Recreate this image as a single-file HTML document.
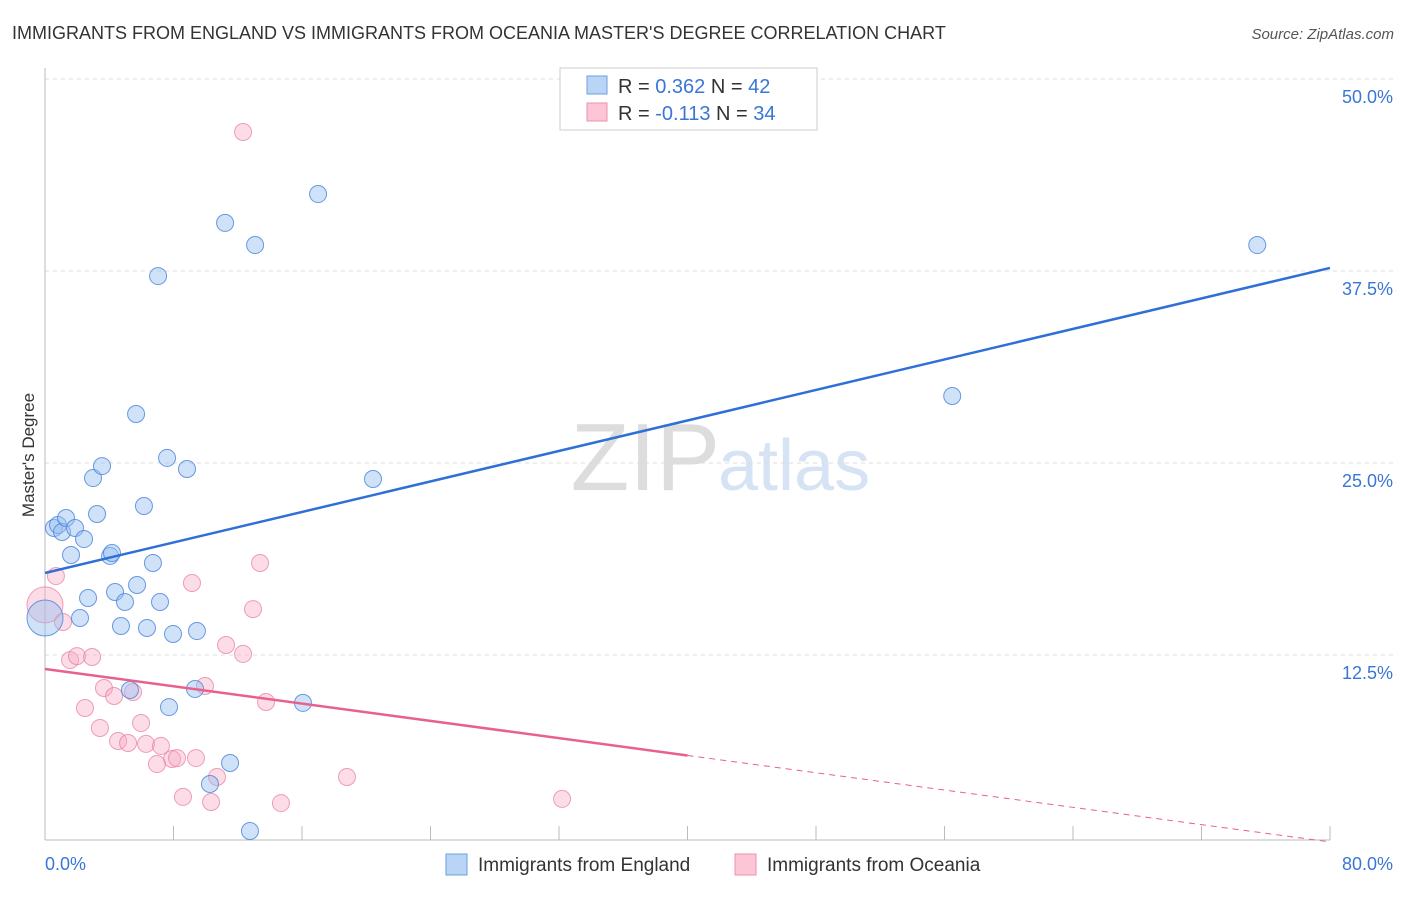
<!DOCTYPE html>
<html><head><meta charset="utf-8"><style>
body{margin:0;background:#fff;font-family:"Liberation Sans",sans-serif;}
svg text{font-family:"Liberation Sans",sans-serif;}
</style></head><body>
<svg id="c" width="1406" height="892">
<text x="12" y="39" font-size="18" fill="#333">IMMIGRANTS FROM ENGLAND VS IMMIGRANTS FROM OCEANIA MASTER'S DEGREE CORRELATION CHART</text>
<text x="1394" y="39" font-size="15" fill="#555" font-style="italic" text-anchor="end">Source: ZipAtlas.com</text>
<text x="720" y="490" font-size="96" fill="#ddd" text-anchor="end" font-family="Liberation Serif">ZIP</text>
<text x="718" y="490" font-size="72" fill="#d5e3f5">atlas</text>
<text transform="translate(34,455) rotate(-90)" font-size="17" fill="#333" text-anchor="middle">Master's Degree</text>
<g id="grid"></g><g id="pts"></g><g id="lines"></g>
<g>
<rect x="560" y="68" width="257" height="62" fill="#fff" stroke="#ccc"/>
<rect x="587" y="76" width="20" height="18" fill="#b9d4f5" stroke="#6a9fe0"/>
<rect x="587" y="103" width="20" height="18" fill="#fcc6d6" stroke="#ee90ae"/>
<text x="618" y="93" font-size="20" fill="#333">R = <tspan fill="#3a76d6">0.362</tspan>   N = <tspan fill="#3a76d6">42</tspan></text>
<text x="618" y="120" font-size="20" fill="#333">R = <tspan fill="#3a76d6">-0.113</tspan>   N = <tspan fill="#3a76d6">34</tspan></text>
</g>
<g>
<rect x="446" y="854" width="21" height="21" fill="#b9d4f5" stroke="#6a9fe0"/>
<text x="478" y="871" font-size="19" fill="#333">Immigrants from England</text>
<rect x="735" y="854" width="21" height="21" fill="#fcc6d6" stroke="#ee90ae"/>
<text x="767" y="871" font-size="19" fill="#333">Immigrants from Oceania</text>
</g>
</svg>
<script>
const blueX=[0.56,0.81,1.06,1.31,1.87,1.62,2.43,3.24,2.99,3.55,4.05,4.17,5.67,6.16,6.72,7.04,7.60,8.84,5.73,4.36,2.68,4.98,7.16,2.18,4.73,6.35,7.97,9.46,11.21,13.08,17.00,20.42,9.34,5.29,7.72,16.06,11.52,10.27,12.76,56.48,75.47,0];
const blueY=[20.77,20.96,20.51,21.42,20.77,19.01,20.05,21.68,24.02,24.80,18.95,19.14,28.19,22.20,18.49,37.17,25.33,24.61,17.06,16.60,16.21,15.95,15.95,14.91,14.39,14.26,13.87,14.06,40.63,39.19,42.51,23.96,10.29,10.22,9.11,9.38,5.47,4.10,1.04,29.36,39.19,14.91];
const pinkX=[12.33,0.68,0,1.12,13.39,9.15,12.95,11.27,12.33,1.56,1.99,2.93,3.67,4.30,5.48,9.96,13.76,2.49,5.98,3.42,4.55,5.17,6.29,7.22,7.91,8.22,6.97,9.40,10.71,18.80,8.59,10.34,14.69,32.19];
const pinkY=[46.55,17.64,15.76,14.65,18.49,17.19,15.49,13.15,12.57,12.17,12.43,12.37,10.35,9.83,10.09,10.48,9.44,9.05,8.07,7.75,6.90,6.77,6.71,6.58,5.73,5.79,5.40,5.79,4.56,4.56,3.26,2.93,2.86,3.13];
const yTicks=[12.5,25,37.5,50];
const blueTrend=[17.84,37.7];
const pinkTrend=[11.59,0.33];
const pinkSolidEnd=40;
const X=v=>45+v*1285/80, Y=v=>847-v*15.36;
const NS='http://www.w3.org/2000/svg';
function mk(t,a,p){const e=document.createElementNS(NS,t);for(const k in a)e.setAttribute(k,a[k]);p.appendChild(e);return e;}
const g=document.getElementById('grid');
yTicks.forEach(t=>{
 const l=mk('line',{x1:45,x2:1394,y1:Y(t),y2:Y(t),stroke:'#ddd','stroke-dasharray':'4,4'},g);
 
 
 const tx=mk('text',{x:1393,y:Y(t)+24,'font-size':18,fill:'#3a76d6','text-anchor':'end'},g);
 tx.textContent=t.toFixed(1)+'%';
 
 
});
mk('line',{x1:45,x2:45,y1:68,y2:840,stroke:'#bbb'},g);
mk('line',{x1:45,x2:1330,y1:840,y2:840,stroke:'#bbb'},g);
for(let i=1;i<=10;i++)mk('line',{x1:X(i*8),x2:X(i*8),y1:826,y2:840,stroke:'#bbb'},g);
const x0=mk('text',{x:45,y:870,'font-size':18,fill:'#3a76d6'},g);x0.textContent='0.0%';


const x1=mk('text',{x:1393,y:870,'font-size':18,fill:'#3a76d6','text-anchor':'end'},g);x1.textContent='80.0%';


const P=document.getElementById('pts');
pinkX.forEach((v,i)=>{const c=mk('circle',{cx:X(v),cy:Y(pinkY[i]),r:v===0?18:8.5,fill:'rgba(248,170,195,0.4)',stroke:'rgba(232,120,155,0.7)'},P);
 
 });
blueX.forEach((v,i)=>{const c=mk('circle',{cx:X(v),cy:Y(blueY[i]),r:v===0?18:8.5,fill:'rgba(150,190,240,0.45)',stroke:'rgba(70,130,220,0.8)'},P);
 
 });
const L=document.getElementById('lines');
const bl=mk('line',{x1:X(0),y1:Y(blueTrend[0]),x2:X(80),y2:Y(blueTrend[1]),stroke:'#2f6fd8','stroke-width':2.5},L);


const pv=x=>pinkTrend[0]+(pinkTrend[1]-pinkTrend[0])*x/80;
const pl=mk('line',{x1:X(0),y1:Y(pv(0)),x2:X(pinkSolidEnd),y2:Y(pv(pinkSolidEnd)),stroke:'#e8608e','stroke-width':2.5},L);


const pd=mk('line',{x1:X(pinkSolidEnd),y1:Y(pv(pinkSolidEnd)),x2:X(80),y2:Y(pv(80)),stroke:'#e8608e','stroke-width':1,'stroke-dasharray':'6,5'},L);


</script>
</body></html>
